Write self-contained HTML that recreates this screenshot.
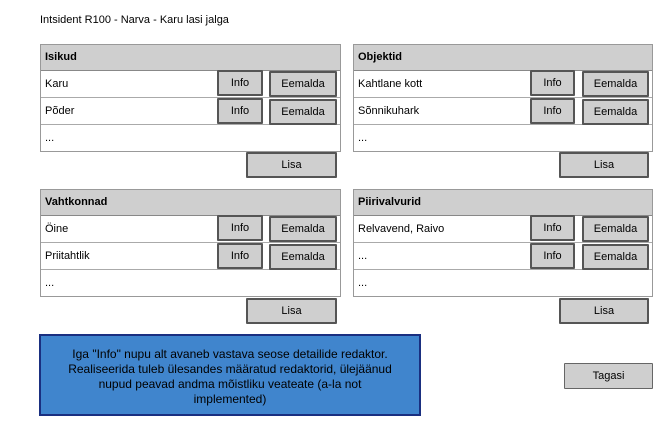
<!DOCTYPE html>
<html><head><style>
body{margin:0;width:663px;height:439px;background:#fff;position:relative;overflow:hidden;font-family:"Comic Sans MS","Liberation Sans",sans-serif;font-size:11px;color:#000}
.a{position:absolute;box-sizing:border-box}
.p{border:1px solid #999;background:#fff}
.h{background:#cfcfcf;border-bottom:1px solid #888;font-weight:bold;padding-left:4px;line-height:25px;height:25px}
.r{height:26px;border-bottom:1px solid #aaa;line-height:26px;padding-left:4px}
.b{background:#cfcfcf;border:2px solid #555;text-align:center;font-size:11px;line-height:22px;border-radius:1px}
</style></head><body>
<div class="a" style="left:40px;top:14px;font-size:11px">Intsident R100 - Narva - Karu lasi jalga</div>

<div class="a p" style="left:40px;top:44px;width:301px;height:108px">
<div class="h">Isikud</div><div class="r">Karu</div><div class="r">Põder</div><div class="r" style="border:0">...</div></div>
<div class="a b" style="left:217px;top:70px;width:46px;height:26px">Info</div>
<div class="a b" style="left:269px;top:71px;width:68px;height:26px">Eemalda</div>
<div class="a b" style="left:217px;top:98px;width:46px;height:26px">Info</div>
<div class="a b" style="left:269px;top:99px;width:68px;height:26px">Eemalda</div>
<div class="a b" style="left:246px;top:152px;width:91px;height:26px">Lisa</div>

<div class="a p" style="left:353px;top:44px;width:300px;height:108px">
<div class="h">Objektid</div><div class="r">Kahtlane kott</div><div class="r">Sõnnikuhark</div><div class="r" style="border:0">...</div></div>
<div class="a b" style="left:530px;top:70px;width:45px;height:26px">Info</div>
<div class="a b" style="left:582px;top:71px;width:67px;height:26px">Eemalda</div>
<div class="a b" style="left:530px;top:98px;width:45px;height:26px">Info</div>
<div class="a b" style="left:582px;top:99px;width:67px;height:26px">Eemalda</div>
<div class="a b" style="left:559px;top:152px;width:90px;height:26px">Lisa</div>

<div class="a p" style="left:40px;top:189px;width:301px;height:108px">
<div class="h">Vahtkonnad</div><div class="r">Öine</div><div class="r">Priitahtlik</div><div class="r" style="border:0">...</div></div>
<div class="a b" style="left:217px;top:215px;width:46px;height:26px">Info</div>
<div class="a b" style="left:269px;top:216px;width:68px;height:26px">Eemalda</div>
<div class="a b" style="left:217px;top:243px;width:46px;height:26px">Info</div>
<div class="a b" style="left:269px;top:244px;width:68px;height:26px">Eemalda</div>
<div class="a b" style="left:246px;top:298px;width:91px;height:26px">Lisa</div>

<div class="a p" style="left:353px;top:189px;width:300px;height:108px">
<div class="h">Piirivalvurid</div><div class="r">Relvavend, Raivo</div><div class="r">...</div><div class="r" style="border:0">...</div></div>
<div class="a b" style="left:530px;top:215px;width:45px;height:26px">Info</div>
<div class="a b" style="left:582px;top:216px;width:67px;height:26px">Eemalda</div>
<div class="a b" style="left:530px;top:243px;width:45px;height:26px">Info</div>
<div class="a b" style="left:582px;top:244px;width:67px;height:26px">Eemalda</div>
<div class="a b" style="left:559px;top:298px;width:90px;height:26px">Lisa</div>

<div class="a" style="left:39px;top:334px;width:382px;height:82px;background:#4085cd;border:2px solid #1a2f80;font-family:'Liberation Sans Narrow','Liberation Sans',sans-serif;font-size:12px;text-align:center;line-height:15px;padding-top:11px">Iga "Info" nupu alt avaneb vastava seose detailide redaktor.<br>Realiseerida tuleb ülesandes määratud redaktorid, ülejäänud<br>nupud peavad andma mõistliku veateate (a-la not<br>implemented)</div>

<div class="a b" style="left:564px;top:363px;width:89px;height:26px;border-width:1px;border-color:#666;line-height:24px">Tagasi</div>
</body></html>
